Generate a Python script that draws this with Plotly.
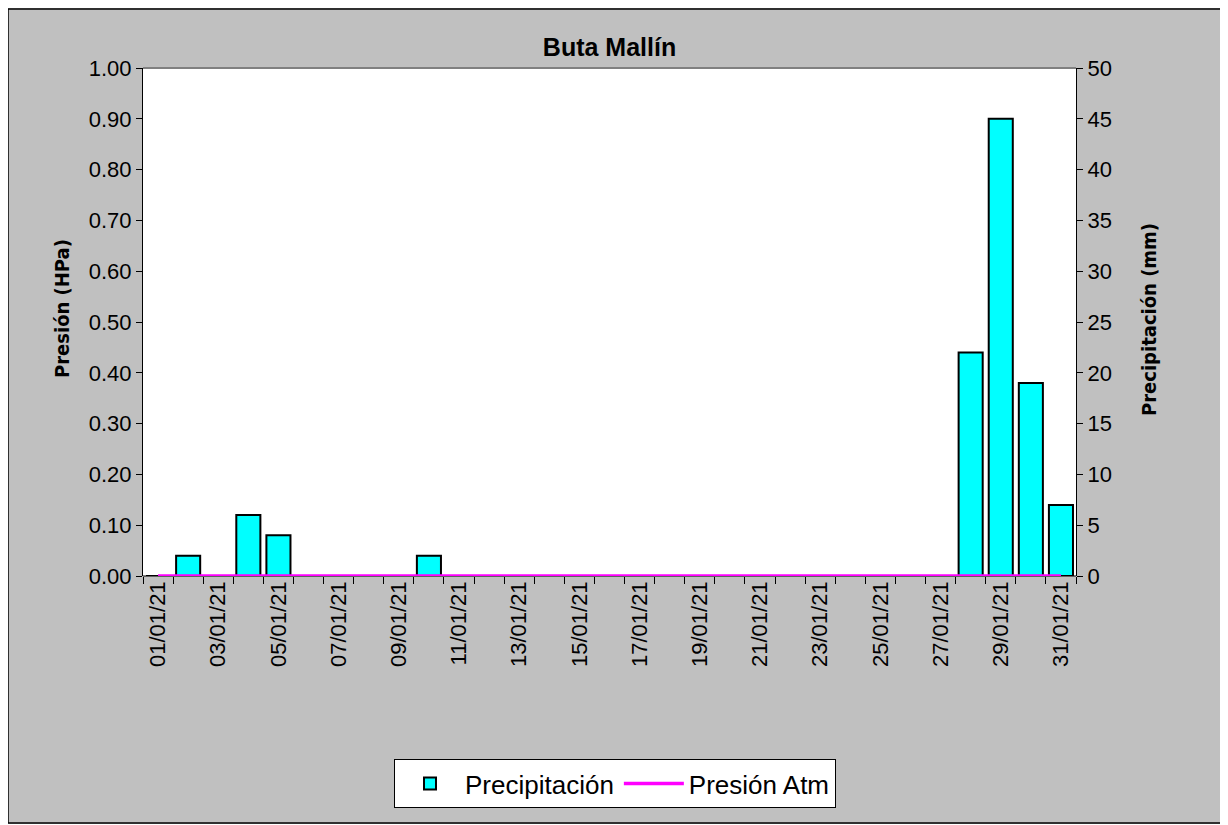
import plotly.graph_objects as go

dates = [f"{d:02d}/01/21" for d in range(1, 32)]
precipitacion = [0, 2, 0, 6, 4, 0, 0, 0, 0, 2, 0, 0, 0, 0, 0, 0, 0, 0, 0, 0,
                 0, 0, 0, 0, 0, 0, 0, 22, 45, 19, 7]
presion = [0] * 31
tick_text = [d if i % 2 == 0 else "" for i, d in enumerate(dates)]

# page has an 8px body margin; layout measured in screen pixels
OFF = 8
W, H = 1219, 816
L, R, T, B = 143 - OFF, 1076 - OFF, 68 - OFF, 576 - OFF
pw, ph = R - L, B - T

def px(x):
    return (x - OFF - L) / pw

def py(y):
    return (B - (y - OFF)) / ph

font_main = "Liberation Sans, Arial, sans-serif"
font_narrow = "Liberation Sans Narrow, DejaVu Sans Condensed, Arial Narrow, Liberation Sans, sans-serif"

fig = go.Figure()
fig.add_trace(go.Bar(
    x=dates, y=precipitacion, name="Precipitación", yaxis="y",
    marker=dict(color="#00FFFF", line=dict(color="black", width=2)),
))
fig.add_trace(go.Scatter(
    x=dates, y=presion, name="Presión Atm", yaxis="y2", mode="lines",
    line=dict(color="#FF00FF", width=3.5), cliponaxis=False,
))

fig.update_layout(
    width=W, height=H,
    margin=dict(l=L, r=W - R, t=T, b=H - B),
    paper_bgcolor="#C0C0C0",
    plot_bgcolor="white",
    bargap=0.2,
    showlegend=True,
    title=dict(text="<b>Buta Mallín</b>", x=(L + R) / 2 / W, xanchor="center",
               y=1 - (47 - OFF) / H, yanchor="middle",
               font=dict(family=font_main, size=25, color="black")),
    xaxis=dict(
        type="category", tickmode="array", tickvals=dates, ticktext=tick_text,
        tickson="boundaries", ticks="outside", ticklen=7, tickcolor="black",
        tickangle=-90, showline=False,
        showgrid=False, zeroline=False,
        tickfont=dict(family=font_main, size=22, color="black"),
    ),
    yaxis=dict(
        side="right", range=[0, 50], dtick=5, tick0=0,
        ticks="outside", ticklen=6, tickcolor="black",
        showline=True, linecolor="black", linewidth=1,
        showgrid=False, zeroline=False,
        tickfont=dict(family=font_main, size=22, color="black"),
    ),
    yaxis2=dict(
        side="left", overlaying="y", range=[0, 1], dtick=0.1, tick0=0,
        tickformat=".2f",
        ticks="outside", ticklen=6, tickcolor="black",
        showline=True, linecolor="black", linewidth=1,
        showgrid=False, zeroline=False,
        tickfont=dict(family=font_main, size=22, color="black"),
    ),
    legend=dict(
        orientation="h", x=px(615), xanchor="center", y=py(759), yanchor="top",
        bgcolor="white", bordercolor="black", borderwidth=1,
        font=dict(family=font_main, size=26, color="black"),
        itemwidth=60,
    ),
    annotations=[
        dict(text="<b>Presión (HPa)</b>", textangle=-90, showarrow=False,
             xref="paper", yref="paper", x=px(62), y=py(309),
             xanchor="center", yanchor="middle",
             font=dict(family=font_narrow, size=20, color="black")),
        dict(text="<b>Precipitación (mm)</b>", textangle=-90, showarrow=False,
             xref="paper", yref="paper", x=px(1149), y=py(320),
             xanchor="center", yanchor="middle",
             font=dict(family=font_narrow, size=20, color="black")),
    ],
    shapes=[
        dict(type="line", xref="paper", yref="paper", x0=0, x1=1, y0=1, y1=1,
             line=dict(color="#808080", width=2)),
        dict(type="line", xref="paper", yref="paper", x0=0, x1=1, y0=0, y1=0,
             layer="below", line=dict(color="black", width=1)),
        dict(type="rect", xref="paper", yref="paper",
             x0=px(OFF), x1=px(OFF + W - 1), y0=py(OFF + H - 1), y1=py(OFF + 1),
             line=dict(color="black", width=1.5), fillcolor="rgba(0,0,0,0)"),
    ],
)

fig.write_html("out.html")
